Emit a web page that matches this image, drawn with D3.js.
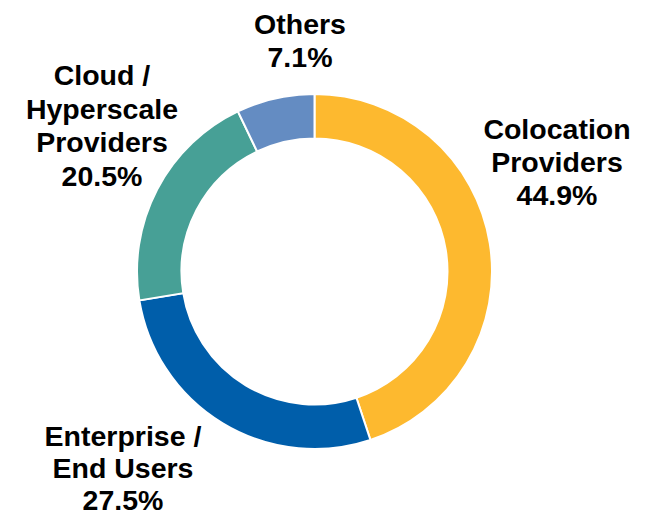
<!DOCTYPE html>
<html>
<head>
<meta charset="utf-8">
<script src="https://cdn.jsdelivr.net/npm/d3@7"></script>
<style>
  html, body { margin: 0; padding: 0; background: #ffffff; }
  svg { display: block; }
</style>
</head>
<body>
<svg id="chart" width="646" height="515"></svg>
<script>
const categories = ["Colocation Providers", "Enterprise / End Users", "Cloud / Hyperscale Providers", "Others"];
const shares = [44.9, 27.5, 20.5, 7.1];
const colors = ["#FDB92F", "#005EAA", "#47A096", "#648CC2"];
const labelLines = [
  ["Colocation", "Providers", "44.9%"],
  ["Enterprise /", "End Users", "27.5%"],
  ["Cloud /", "Hyperscale", "Providers", "20.5%"],
  ["Others", "7.1%"]
];
// label anchor: center x, first baseline y, line height
const labelPos = [[557, 139, 33], [123, 446, 32], [102, 85, 33.5], [300, 34, 33]];

const svg = d3.select("#chart");
const cx = 314.5, cy = 271.5, rOuter = 177.5, rInner = 133;

const data = categories.map((c, i) => ({ name: c, value: shares[i], color: colors[i], lines: labelLines[i] }));

const pie = d3.pie().sort(null).value(d => d.value).startAngle(0).endAngle(2 * Math.PI);
const arc = d3.arc().innerRadius(rInner).outerRadius(rOuter);

const g = svg.append("g").attr("transform", `translate(${cx},${cy})`);
g.selectAll("path")
  .data(pie(data))
  .join("path")
  .attr("d", arc)
  .attr("fill", d => d.data.color)
  .attr("stroke", "#ffffff")
  .attr("stroke-width", 2);

data.forEach((d, i) => {
  const [x, y, lh] = labelPos[i];
  const t = svg.append("text")
    .attr("x", x)
    .attr("y", y)
    .attr("text-anchor", "middle")
    .attr("font-family", "'Liberation Sans', Arial, sans-serif")
    .attr("font-weight", "bold")
    .attr("font-size", 28.5)
    .attr("fill", "#000000");
  d.lines.forEach((ln, j) => {
    t.append("tspan").attr("x", x).attr("y", y + j * lh).text(ln);
  });
});
</script>
</body>
</html>
